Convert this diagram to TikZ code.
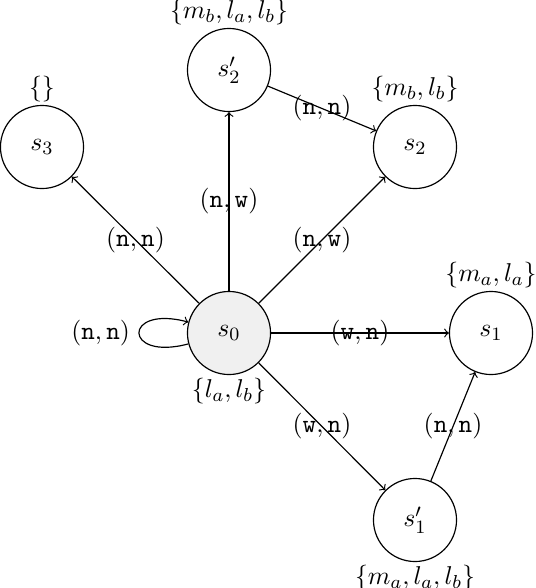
\documentclass[11pt,tikz,border=0pt]{standalone}
\begin{document}
\begin{tikzpicture}[x=0.425pt,y=-0.425pt,
  state/.style={circle,draw,line width=0.5pt,minimum size=35.3pt,inner sep=0pt},
  init/.style={state,fill=black!6},
  every label/.style={inner sep=1.2pt},
  arr/.style={->,line width=0.5pt}]
\useasboundingbox (0,0) rectangle (536,588);
\node[init,label=below:{$\{l_a,l_b\}$}] (s0) at (229,333) {$s_0$};
\node[state,label=above:{$\{\}$}] (s3) at (42,147) {$s_3$};
\node[state,label=above:{$\{m_b,l_a,l_b\}$}] (s2p) at (229,70) {$s'_2$};
\node[state,label=above:{$\{m_b,l_b\}$}] (s2) at (415,147) {$s_2$};
\node[state,label=above:{$\{m_a,l_a\}$}] (s1) at (491,333) {$s_1$};
\node[state,label=below:{$\{m_a,l_a,l_b\}$}] (s1p) at (415,520) {$s'_1$};
\draw[arr] (s0) -- node {$(\mathtt{n},\mathtt{n})$} (s3);
\draw[arr] (s0) -- node {$(\mathtt{n},\mathtt{w})$} (s2p);
\draw[arr] (s0) -- node {$(\mathtt{n},\mathtt{w})$} (s2);
\draw[arr] (s0) -- node {$(\mathtt{w},\mathtt{n})$} (s1);
\draw[arr] (s0) -- node {$(\mathtt{w},\mathtt{n})$} (s1p);
\draw[arr] (s2p) -- node {$(\mathtt{n},\mathtt{n})$} (s2);
\draw[arr] (s1p) -- node {$(\mathtt{n},\mathtt{n})$} (s1);
\draw[arr] (s0) to[loop left] node[left] {$(\mathtt{n},\mathtt{n})$} (s0);
\end{tikzpicture}
\end{document}
